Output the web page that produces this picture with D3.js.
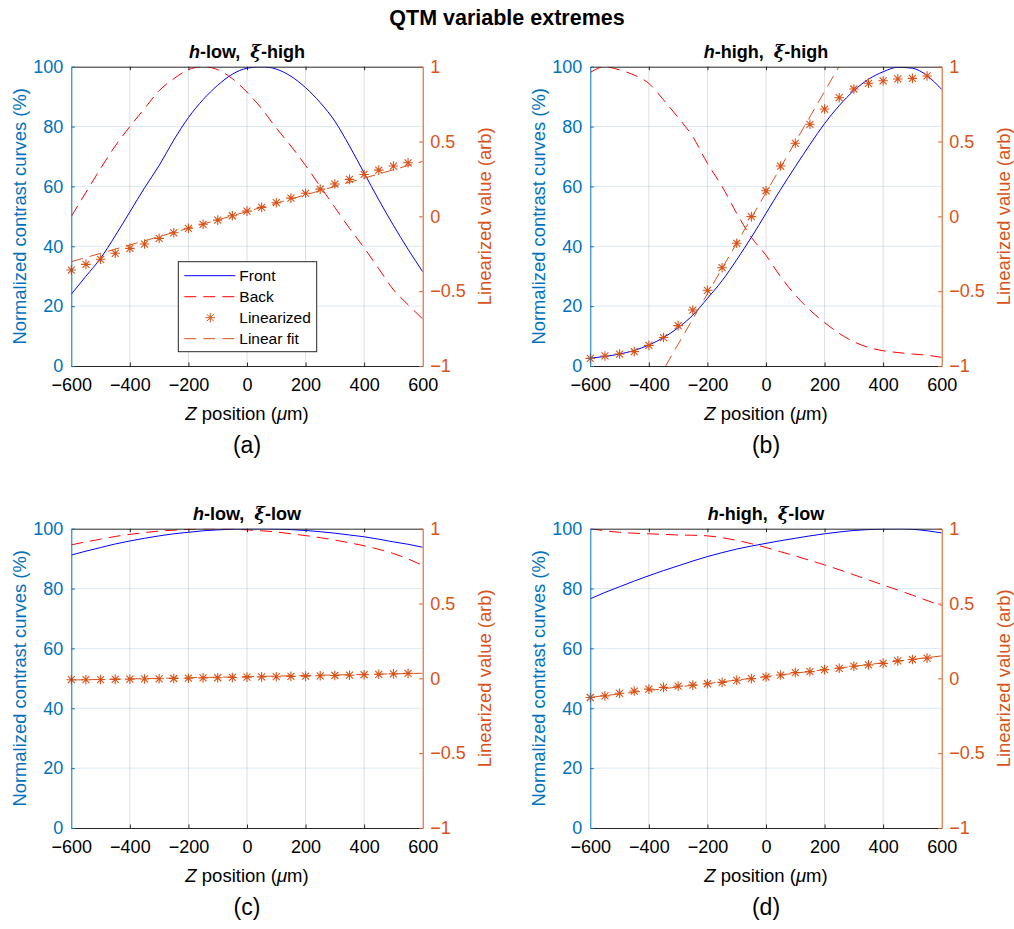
<!DOCTYPE html>
<html>
<head>
<meta charset="utf-8">
<script src="https://cdn.jsdelivr.net/npm/d3@7"></script>
<style>
  body { margin: 0; background: #fff; }
  svg { display: block; font-family: 'Liberation Sans', Arial, sans-serif; }
</style>
</head>
<body>
<svg id="chart" width="1014" height="929"></svg>
<script>

// z positions (um)
const zCurve = [-600, -550, -500, -450, -400, -350, -300, -250, -200, -150, -100, -50, 0,
  50, 100, 150, 200, 250, 300, 350, 400, 450, 500, 550, 600];
const zMark = [-600, -550, -500, -450, -400, -350, -300, -250, -200, -150, -100, -50, 0,
  50, 100, 150, 200, 250, 300, 350, 400, 450, 500, 550];

const xTicks = [-600, -400, -200, 0, 200, 400, 600];
const yLeftTicks = [0, 20, 40, 60, 80, 100];
const yRightTicks = [-1, -0.5, 0, 0.5, 1];

// (a) h-low, xi-high
const frontA = [24, 30, 36, 43.5, 51.5, 59.5, 67, 75.5, 83, 89, 93.8, 97.5, 99.5,
  100, 99.2, 96.8, 93, 88, 81.8, 73.5, 64.5, 55.5, 47, 39, 31.5];
const backA = [50, 58, 66, 73.5, 80, 86, 92, 96, 99, 100, 99, 96, 91.5,
  86, 79.5, 73.5, 67, 60, 53, 46, 39.5, 32.5, 25.5, 20.5, 15.7];
const linA = [-0.359, -0.321, -0.287, -0.247, -0.214, -0.185, -0.147, -0.11, -0.08, -0.053, -0.025, 0.004,
  0.035, 0.06, 0.091, 0.122, 0.154, 0.182, 0.216, 0.247, 0.28, 0.309, 0.336, 0.358];
const fitAz = [-600, 600];
const fitA = [-0.303, 0.367];

// (b) h-high, xi-high
const frontB = [2.6, 3.2, 4, 5.2, 7, 9.5, 12.8, 17, 22.6, 28.5, 35.5, 43, 51,
  59, 66.6, 74, 81, 87, 92, 95.8, 98.3, 99.8, 99.5, 97, 92.4];
const backB = [98.1, 100, 98.9, 97.2, 94.4, 88.9, 83, 76.6, 67.7, 60, 51, 43, 37,
  29.8, 23.7, 18.7, 14.5, 10.9, 8.1, 6.2, 5.1, 4.5, 4, 3.6, 2.9];
const linB = [-0.949, -0.933, -0.92, -0.904, -0.862, -0.81, -0.73, -0.626, -0.494, -0.343, -0.18, -0.002,
  0.171, 0.336, 0.488, 0.615, 0.717, 0.793, 0.851, 0.889, 0.906, 0.918, 0.922, 0.938];
const fitBz = [-343, 249];
const fitB = [-1, 1];

// (c) h-low, xi-low
const frontC = [91.2, 92.5, 93.7, 94.9, 95.9, 96.8, 97.6, 98.3, 98.8, 99.3, 99.6, 99.85, 99.95,
  100, 99.9, 99.7, 99.4, 99, 98.5, 97.9, 97.3, 96.5, 95.6, 94.8, 93.8];
const backC = [94.6, 95.6, 96.5, 97.4, 98.1, 98.7, 99.2, 99.5, 99.75, 99.95, 100, 99.9, 99.6,
  99.3, 98.9, 98.3, 97.7, 97, 96.2, 95.3, 94.3, 93.1, 91.7, 89.9, 87.7];
const linC = [-0.009, -0.009, -0.008, -0.007, -0.005, -0.004, -0.003, -0.001, 0.001, 0.003, 0.004, 0.006,
  0.008, 0.01, 0.011, 0.013, 0.015, 0.017, 0.019, 0.021, 0.024, 0.027, 0.03, 0.033];
const fitCz = [-600, 600];
const fitC = [-0.011, 0.034];

// (d) h-high, xi-low
const frontD = [76.6, 78.7, 80.6, 82.5, 84.3, 86, 87.6, 89.2, 90.7, 92, 93.2, 94.2, 95.1,
  96, 96.8, 97.6, 98.3, 98.9, 99.4, 99.7, 99.9, 100, 99.8, 99.3, 98.6];
const backD = [100, 99.3, 98.8, 98.5, 98.3, 98.1, 97.9, 97.8, 97.6, 97, 96.1, 95, 93.7,
  92.3, 90.9, 89.4, 87.9, 86.3, 84.6, 82.9, 81.2, 79.5, 77.8, 76, 74.3];
const linD = [-0.128, -0.117, -0.1, -0.085, -0.072, -0.06, -0.052, -0.045, -0.036, -0.027, -0.013, -0.002,
  0.009, 0.022, 0.038, 0.045, 0.058, 0.067, 0.081, 0.09, 0.1, 0.117, 0.126, 0.135];
const fitDz = [-600, 600];
const fitD = [-0.127, 0.15];

const legendLabels = ['Front', 'Back', 'Linearized', 'Linear fit'];

// colours
const cLeft = '#0072BD';
const cRight = '#D95319';
const cAxis = '#262626';
const cFront = '#0000FF';
const cBack = '#FF0000';

const plotW = 351.4;
const plotH = 299.3;
const dash = '12,7';
const starPath = 'M-4.8,0H4.8M0,-4.8V4.8M-3.5,-3.5L3.5,3.5M-3.5,3.5L3.5,-3.5';

const panels = [
  { id: 'a', h: 'h', hTxt: '-low,  ', xiTxt: '-high', left: 71.3, top: 66.7,
    front: frontA, back: backA, lin: linA, fitZ: fitAz, fit: fitA, legend: true },
  { id: 'b', h: 'h', hTxt: '-high,  ', xiTxt: '-high', left: 590.3, top: 66.7,
    front: frontB, back: backB, lin: linB, fitZ: fitBz, fit: fitB },
  { id: 'c', h: 'h', hTxt: '-low,  ', xiTxt: '-low', left: 71.3, top: 528.7,
    front: frontC, back: backC, lin: linC, fitZ: fitCz, fit: fitC },
  { id: 'd', h: 'h', hTxt: '-high,  ', xiTxt: '-low', left: 590.3, top: 528.7,
    front: frontD, back: backD, lin: linD, fitZ: fitDz, fit: fitD }
];

const svg = d3.select('#chart');
const fmt = v => String(v).replace('-', '\u2212');

svg.append('text')
  .attr('x', 507).attr('y', 25)
  .attr('text-anchor', 'middle')
  .attr('font-size', 21.5).attr('font-weight', 'bold')
  .attr('fill', '#000')
  .text('QTM variable extremes');

panels.forEach(drawPanel);

function drawPanel(p) {
  let x = d3.scaleLinear().domain([-600, 600]).range([0, plotW]);
  let yL = d3.scaleLinear().domain([0, 100]).range([plotH, 0]);
  let yR = d3.scaleLinear().domain([-1, 1]).range([plotH, 0]);

  let g = svg.append('g').attr('transform', `translate(${p.left},${p.top})`);

  g.append('clipPath').attr('id', 'clip-' + p.id)
    .append('rect').attr('width', plotW).attr('height', plotH);

  // grid
  g.append('g').selectAll('line').data(xTicks.slice(1, -1)).join('line')
    .attr('x1', d => x(d)).attr('x2', d => x(d))
    .attr('y1', 0).attr('y2', plotH)
    .attr('stroke', cAxis).attr('stroke-opacity', 0.15).attr('stroke-width', 1);
  g.append('g').selectAll('line').data(yLeftTicks.slice(1, -1)).join('line')
    .attr('x1', 0).attr('x2', plotW)
    .attr('y1', d => yL(d)).attr('y2', d => yL(d))
    .attr('stroke', cLeft).attr('stroke-opacity', 0.15).attr('stroke-width', 1);

  // data
  let data = g.append('g').attr('clip-path', `url(#clip-${p.id})`);
  let lineL = d3.line().x((d, i) => x(zCurve[i])).y(d => yL(d)).curve(d3.curveMonotoneX);

  data.append('path').datum(p.back)
    .attr('d', lineL).attr('fill', 'none')
    .attr('stroke', cBack).attr('stroke-width', 1).attr('stroke-dasharray', dash);
  data.append('path').datum(p.front)
    .attr('d', lineL).attr('fill', 'none')
    .attr('stroke', cFront).attr('stroke-width', 1);

  let fitLine = d3.line().x((d, i) => x(p.fitZ[i])).y(d => yR(d));
  data.append('path').datum(p.fit)
    .attr('d', fitLine).attr('fill', 'none')
    .attr('stroke', cRight).attr('stroke-width', 1).attr('stroke-dasharray', dash);

  g.append('g').selectAll('path').data(p.lin).join('path')
    .attr('transform', (d, i) => `translate(${x(zMark[i])},${yR(d)})`)
    .attr('d', starPath)
    .attr('fill', 'none').attr('stroke', cRight).attr('stroke-width', 1.1);

  // axes
  let axB = g.append('g').attr('transform', `translate(0,${plotH})`)
    .call(d3.axisBottom(x).tickValues(xTicks).tickFormat(fmt).tickSize(-3.5).tickSizeOuter(0).tickPadding(12));
  let axT = g.append('g')
    .call(d3.axisTop(x).tickValues(xTicks).tickFormat('').tickSize(-3.5).tickSizeOuter(0));
  let axL = g.append('g')
    .call(d3.axisLeft(yL).tickValues(yLeftTicks).tickSize(-3.5).tickSizeOuter(0).tickPadding(8));
  let axR = g.append('g').attr('transform', `translate(${plotW},0)`)
    .call(d3.axisRight(yR).tickValues(yRightTicks).tickFormat(fmt).tickSize(-3.5).tickSizeOuter(0).tickPadding(7.5));

  [[axB, cAxis], [axT, cAxis], [axL, cLeft], [axR, cRight]].forEach(([ax, c]) => {
    ax.attr('font-family', null).attr('font-size', 18);
    ax.select('.domain').attr('stroke', c).attr('stroke-width', 1);
    ax.selectAll('.tick line').attr('stroke', c);
    ax.selectAll('.tick text').attr('fill', c === cAxis ? '#000' : c);
  });
  axT.selectAll('.tick').filter((d, i) => i === 0 || i === xTicks.length - 1).remove();
  axB.selectAll('.tick line').filter(d => d === -600 || d === 600).remove();

  // titles
  let title = g.append('text')
    .attr('x', plotW / 2).attr('y', -9)
    .attr('text-anchor', 'middle')
    .attr('font-size', 18).attr('font-weight', 'bold')
    .attr('xml:space', 'preserve');
  title.append('tspan').attr('font-style', 'italic').text(p.h);
  title.append('tspan').text(p.hTxt);
  title.append('tspan').attr('font-style', 'italic').attr('font-family', 'DejaVu Serif, serif').text('\u03BE');
  title.append('tspan').text(p.xiTxt);

  let xl = g.append('text')
    .attr('x', plotW / 2).attr('y', plotH + 54)
    .attr('text-anchor', 'middle')
    .attr('font-size', 18.5).attr('fill', '#000');
  xl.append('tspan').attr('font-style', 'italic').text('Z');
  xl.append('tspan').text(' position (');
  xl.append('tspan').attr('font-style', 'italic').text('\u03BC');
  xl.append('tspan').text('m)');

  g.append('text')
    .attr('transform', `translate(${-52},${plotH / 2}) rotate(-90)`)
    .attr('text-anchor', 'middle').attr('dominant-baseline', 'central')
    .attr('font-size', 18.4).attr('fill', cLeft)
    .text('Normalized contrast curves (%)');

  g.append('text')
    .attr('transform', `translate(${plotW + 62},${plotH / 2}) rotate(-90)`)
    .attr('text-anchor', 'middle').attr('dominant-baseline', 'central')
    .attr('font-size', 18.4).attr('fill', cRight)
    .text('Linearized value (arb)');

  g.append('text')
    .attr('x', plotW / 2).attr('y', plotH + 87)
    .attr('text-anchor', 'middle')
    .attr('font-size', 23).attr('fill', '#000')
    .text('(' + p.id + ')');

  if (p.legend) drawLegend(g);
}

function drawLegend(g) {
  let lg = g.append('g').attr('transform', 'translate(107,195)');
  lg.append('rect')
    .attr('width', 138.4).attr('height', 90)
    .attr('fill', '#fff').attr('stroke', cAxis).attr('stroke-width', 1);

  let rows = lg.selectAll('g.row').data(legendLabels).join('g')
    .attr('class', 'row')
    .attr('transform', (d, i) => `translate(0,${14 + i * 21})`);

  rows.append('text')
    .attr('x', 61).attr('dy', '0.35em')
    .attr('font-size', 15.5).attr('fill', '#000')
    .text(d => d);

  rows.filter((d, i) => i !== 2).append('line')
    .attr('x1', 6).attr('x2', 57)
    .attr('stroke', (d, i) => [cFront, cBack, cRight][i])
    .attr('stroke-width', 1)
    .attr('stroke-dasharray', (d, i) => i === 0 ? null : dash);

  rows.filter((d, i) => i === 2).append('path')
    .attr('transform', 'translate(32,0)')
    .attr('d', starPath)
    .attr('fill', 'none').attr('stroke', cRight).attr('stroke-width', 1);
}

</script>
</body>
</html>
